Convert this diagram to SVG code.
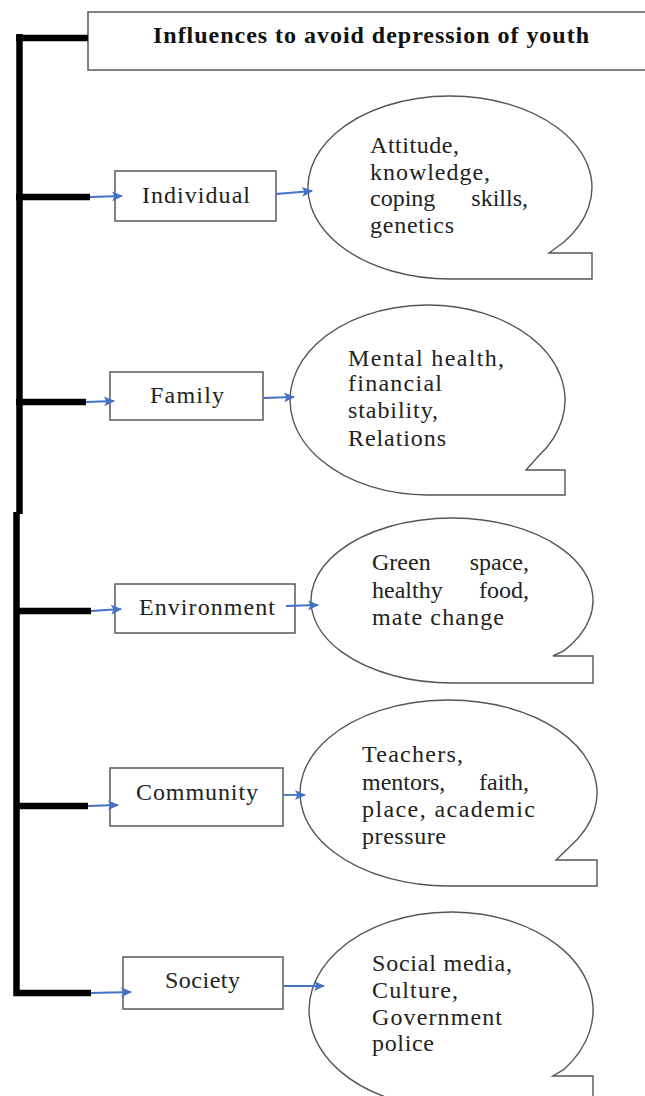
<svg xmlns="http://www.w3.org/2000/svg" width="645" height="1096" viewBox="0 0 645 1096">
<style>
.box{fill:#fff;stroke:#5a5a5a;stroke-width:1.5}
.bub{fill:#fff;stroke:#555;stroke-width:1.4}
.t{font-family:"Liberation Serif","Times New Roman",serif;font-size:24px;fill:#222}
.title{font-family:"Liberation Serif","Times New Roman",serif;font-size:24px;font-weight:bold;fill:#111}
.blk{stroke:#000;stroke-width:6.5;fill:none}
.blue{stroke:#4472C4;stroke-width:1.8;fill:none}
</style>
<defs>
<marker id="ah" markerUnits="userSpaceOnUse" markerWidth="12" markerHeight="12" refX="10" refY="6" orient="auto" viewBox="0 0 12 12">
<path d="M0,1 L11,6 L0,11 L2.5,6 z" fill="#4472C4"/>
</marker>
</defs>
<rect width="645" height="1096" fill="#fff"/>

<g id="title">
<rect class="box" x="88" y="12" width="560" height="58"/>
<text class="title" x="153" y="43" textLength="436" lengthAdjust="spacing">Influences to avoid depression of youth</text>
</g>

<g id="individual">
<rect class="box" x="115" y="171" width="161" height="50"/>
<text class="t" x="142" y="203" textLength="108" lengthAdjust="spacing">Individual</text>
</g>
<g id="individual-bubble">
<path class="bub" d="M450,279 A142,91.5 0 1 1 564,242 L549,253 L592,253 L592,279 Z"/>
<text class="t" x="370" y="153" textLength="89" lengthAdjust="spacing">Attitude,</text>
<text class="t" x="370" y="180" textLength="120" lengthAdjust="spacing">knowledge,</text>
<text class="t" x="370" y="206">coping</text>
<text class="t" x="528" y="206" text-anchor="end">skills,</text>
<text class="t" x="370" y="233" textLength="84" lengthAdjust="spacing">genetics</text>
</g>

<g id="family">
<rect class="box" x="110" y="372" width="153" height="48"/>
<text class="t" x="150" y="403" textLength="74" lengthAdjust="spacing">Family</text>
</g>
<g id="family-bubble">
<path class="bub" d="M427.5,495 A137.5,95 0 1 1 539,455.6 L526,470 L565,470 L565,495 Z"/>
<text class="t" x="348" y="366" textLength="156" lengthAdjust="spacing">Mental health,</text>
<text class="t" x="348" y="391" textLength="94" lengthAdjust="spacing">financial</text>
<text class="t" x="348" y="418" textLength="90" lengthAdjust="spacing">stability,</text>
<text class="t" x="348" y="446" textLength="98" lengthAdjust="spacing">Relations</text>
</g>

<g id="environment">
<rect class="box" x="115" y="584" width="180" height="49"/>
<text class="t" x="139" y="615" textLength="136" lengthAdjust="spacing">Environment</text>
</g>
<g id="environment-bubble">
<path class="bub" d="M452,683 A141,82.5 0 1 1 564,650.6 L553,656 L593,656 L593,683 Z"/>
<text class="t" x="372" y="570">Green</text>
<text class="t" x="529" y="570" text-anchor="end">space,</text>
<text class="t" x="372" y="598">healthy</text>
<text class="t" x="529" y="598" text-anchor="end">food,</text>
<text class="t" x="372" y="625" textLength="132" lengthAdjust="spacing">mate change</text>
</g>

<g id="community">
<rect class="box" x="110" y="768" width="173" height="58"/>
<text class="t" x="136" y="800" textLength="122" lengthAdjust="spacing">Community</text>
</g>
<g id="community-bubble">
<path class="bub" d="M448.5,886 A148.5,93 0 1 1 570,846.5 L556,860 L597,860 L597,886 Z"/>
<text class="t" x="362" y="762" textLength="101" lengthAdjust="spacing">Teachers,</text>
<text class="t" x="362" y="790">mentors,</text>
<text class="t" x="529" y="790" text-anchor="end">faith,</text>
<text class="t" x="362" y="817" textLength="173" lengthAdjust="spacing">place, academic</text>
<text class="t" x="362" y="844" textLength="84" lengthAdjust="spacing">pressure</text>
</g>

<g id="society">
<rect class="box" x="123" y="957" width="160" height="52"/>
<text class="t" x="165" y="988" textLength="75" lengthAdjust="spacing">Society</text>
</g>
<g id="society-bubble">
<path class="bub" d="M451,1108 A142,98 0 1 1 564,1069.4 L553,1076 L593,1076 L593,1108 Z"/>
<text class="t" x="372" y="971" textLength="140" lengthAdjust="spacing">Social media,</text>
<text class="t" x="372" y="998" textLength="86" lengthAdjust="spacing">Culture,</text>
<text class="t" x="372" y="1025" textLength="130" lengthAdjust="spacing">Government</text>
<text class="t" x="372" y="1051" textLength="62" lengthAdjust="spacing">police</text>
</g>

<g id="connectors">
<path class="blk" d="M19.5,34 V514"/>
<path class="blk" d="M16.5,512 V993 H91" stroke-linejoin="miter"/>
<path class="blk" d="M16,38 H88"/>
<path class="blk" d="M16,197 H90"/>
<path class="blk" d="M16,402 H86"/>
<path class="blk" d="M16,611 H91"/>
<path class="blk" d="M16,806 H88"/>
<line class="blue" x1="90" y1="197" x2="122" y2="196" marker-end="url(#ah)"/>
<line class="blue" x1="86" y1="402" x2="114" y2="401" marker-end="url(#ah)"/>
<line class="blue" x1="91" y1="611" x2="121" y2="609" marker-end="url(#ah)"/>
<line class="blue" x1="88" y1="806" x2="118" y2="805" marker-end="url(#ah)"/>
<line class="blue" x1="91" y1="993" x2="131" y2="992" marker-end="url(#ah)"/>
<line class="blue" x1="276" y1="194" x2="312" y2="191" marker-end="url(#ah)"/>
<line class="blue" x1="263" y1="398" x2="294" y2="397" marker-end="url(#ah)"/>
<line class="blue" x1="286" y1="606" x2="318" y2="605" marker-end="url(#ah)"/>
<line class="blue" x1="283" y1="795" x2="305" y2="795" marker-end="url(#ah)"/>
<line class="blue" x1="283" y1="986" x2="324" y2="986" marker-end="url(#ah)"/>
</g>
</svg>
